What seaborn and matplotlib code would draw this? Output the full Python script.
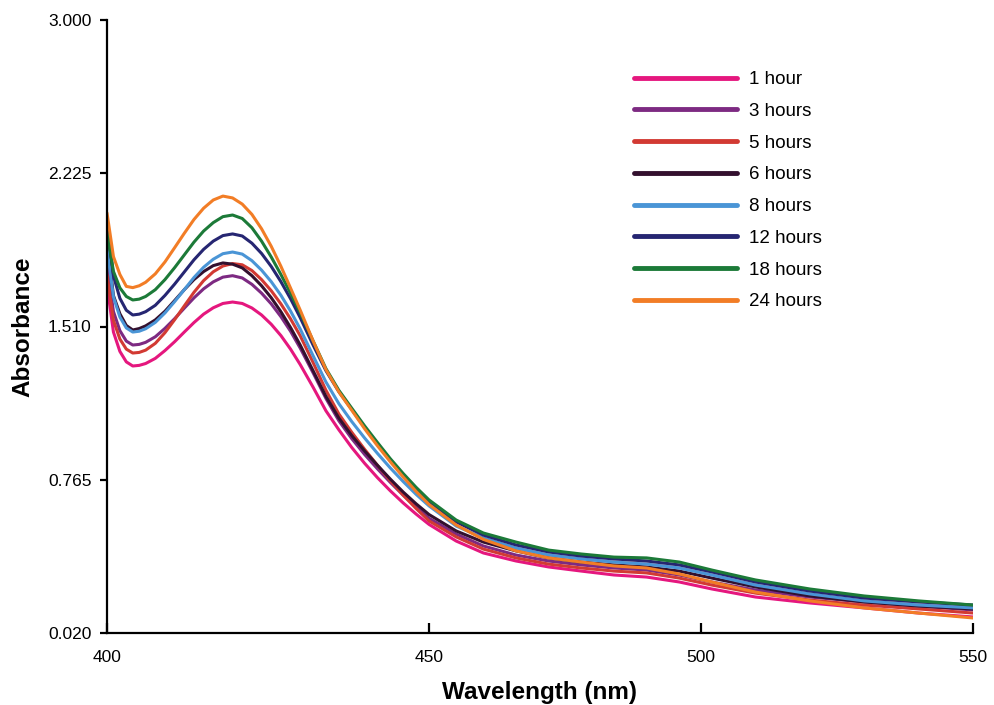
import numpy as np
import pandas as pd
import matplotlib
matplotlib.use("Agg")
import matplotlib.pyplot as plt
import seaborn as sns

# UV-vis absorbance spectra
wavelength = [400, 401, 402, 403, 404, 405, 406, 407.5, 409, 410.5, 412, 413.5, 415, 416.5,
              418, 419.5, 421, 422.5, 424, 425.5, 427, 428.5, 430, 432, 434, 436, 438, 440,
              442, 444, 446, 448, 450, 455, 460, 466, 472, 478, 484, 490, 496, 502, 510,
              520, 530, 540, 550]

hour_1 = [1.712, 1.483, 1.389, 1.338, 1.318, 1.321, 1.330, 1.355, 1.393, 1.436, 1.483, 1.529,
          1.570, 1.601, 1.622, 1.629, 1.622, 1.600, 1.566, 1.521, 1.466, 1.400, 1.325, 1.215,
          1.100, 1.008, 0.922, 0.845, 0.775, 0.711, 0.652, 0.598, 0.548, 0.467, 0.409, 0.370,
          0.341, 0.321, 0.302, 0.292, 0.268, 0.234, 0.195, 0.166, 0.142, 0.117, 0.098]
hours_3 = [1.809, 1.583, 1.490, 1.439, 1.420, 1.423, 1.433, 1.460, 1.501, 1.548, 1.599, 1.649,
           1.693, 1.727, 1.750, 1.757, 1.746, 1.715, 1.672, 1.620, 1.558, 1.487, 1.405, 1.285,
           1.160, 1.052, 0.965, 0.888, 0.818, 0.752, 0.690, 0.632, 0.578, 0.501, 0.443, 0.399,
           0.370, 0.351, 0.336, 0.326, 0.302, 0.268, 0.229, 0.195, 0.171, 0.151, 0.132]
hours_5 = [1.760, 1.540, 1.449, 1.400, 1.381, 1.384, 1.395, 1.428, 1.480, 1.543, 1.610, 1.676,
           1.733, 1.776, 1.804, 1.816, 1.810, 1.782, 1.738, 1.684, 1.620, 1.547, 1.465, 1.335,
           1.200, 1.085, 0.996, 0.913, 0.835, 0.760, 0.690, 0.625, 0.565, 0.487, 0.428, 0.385,
           0.355, 0.336, 0.321, 0.312, 0.287, 0.253, 0.214, 0.180, 0.156, 0.137, 0.117]
hours_6 = [1.930, 1.660, 1.572, 1.515, 1.493, 1.500, 1.513, 1.542, 1.584, 1.636, 1.689, 1.738,
           1.777, 1.806, 1.819, 1.813, 1.795, 1.757, 1.708, 1.650, 1.582, 1.505, 1.420, 1.295,
           1.170, 1.065, 0.980, 0.905, 0.835, 0.768, 0.705, 0.648, 0.596, 0.516, 0.462, 0.419,
           0.385, 0.365, 0.351, 0.341, 0.321, 0.287, 0.244, 0.200, 0.171, 0.151, 0.137]
hours_8 = [1.891, 1.654, 1.556, 1.503, 1.483, 1.487, 1.499, 1.530, 1.576, 1.631, 1.689, 1.748,
           1.798, 1.837, 1.864, 1.872, 1.862, 1.830, 1.784, 1.728, 1.662, 1.585, 1.498, 1.368,
           1.240, 1.135, 1.048, 0.968, 0.893, 0.822, 0.756, 0.694, 0.638, 0.540, 0.482, 0.433,
           0.399, 0.380, 0.365, 0.355, 0.336, 0.302, 0.253, 0.210, 0.176, 0.156, 0.142]
hours_12 = [2.018, 1.756, 1.647, 1.589, 1.566, 1.570, 1.582, 1.613, 1.661, 1.716, 1.775, 1.834,
            1.885, 1.925, 1.952, 1.960, 1.950, 1.915, 1.865, 1.802, 1.728, 1.645, 1.553, 1.420,
            1.295, 1.193, 1.107, 1.020, 0.940, 0.862, 0.790, 0.722, 0.660, 0.560, 0.496, 0.448,
            0.414, 0.394, 0.380, 0.370, 0.351, 0.317, 0.268, 0.224, 0.190, 0.171, 0.156]
hours_18 = [1.969, 1.778, 1.698, 1.656, 1.639, 1.643, 1.656, 1.689, 1.738, 1.796, 1.858, 1.920,
            1.974, 2.015, 2.044, 2.052, 2.035, 1.990, 1.925, 1.848, 1.763, 1.672, 1.577, 1.440,
            1.305, 1.200, 1.113, 1.027, 0.946, 0.867, 0.795, 0.728, 0.667, 0.569, 0.506, 0.462,
            0.423, 0.404, 0.389, 0.385, 0.365, 0.326, 0.278, 0.234, 0.200, 0.176, 0.156]
hours_24 = [2.062, 1.850, 1.763, 1.705, 1.699, 1.708, 1.725, 1.766, 1.824, 1.893, 1.963, 2.030,
            2.085, 2.125, 2.144, 2.135, 2.105, 2.055, 1.985, 1.900, 1.803, 1.697, 1.590, 1.440,
            1.300, 1.192, 1.103, 1.013, 0.930, 0.852, 0.778, 0.708, 0.645, 0.545, 0.475, 0.419,
            0.385, 0.365, 0.346, 0.336, 0.307, 0.268, 0.219, 0.176, 0.142, 0.117, 0.093]

series_labels = ["1 hour", "3 hours", "5 hours", "6 hours", "8 hours", "12 hours", "18 hours", "24 hours"]
series_values = [hour_1, hours_3, hours_5, hours_6, hours_8, hours_12, hours_18, hours_24]
series_colors = ["#E5177E", "#7D2A82", "#D23A33", "#33102E", "#4A95D6", "#262672", "#1C7A38", "#F27D26"]

xtick_values = [400, 450, 500, 550]
ytick_labels = ["0.020", "0.765", "1.510", "2.225", "3.000"]

spectra = pd.concat(
    [pd.DataFrame({"wavelength": wavelength, "absorbance": values, "time": label})
     for label, values in zip(series_labels, series_values)],
    ignore_index=True)

sns.set_style("ticks")
plt.rcParams["font.family"] = ["Liberation Sans", "DejaVu Sans"]
plt.rcParams["text.color"] = "black"
plt.rcParams["axes.labelcolor"] = "black"

fig = plt.figure(figsize=(9.94, 7.05), dpi=100)
ax = fig.add_axes([107 / 994, 72 / 705, 866 / 994, 613 / 705])

sns.lineplot(data=spectra, x="wavelength", y="absorbance", hue="time",
             hue_order=series_labels, palette=series_colors, linewidth=2.2,
             estimator=None, errorbar=None, legend=True, ax=ax)


# the original x axis is stretched between 400 and 450 nm
def forward(x):
    return np.interp(x, [400, 450, 550], [0.0, 322.0, 866.0])


def inverse(x):
    return np.interp(x, [0.0, 322.0, 866.0], [400, 450, 550])


ax.set_xscale("function", functions=(forward, inverse))
ax.set_xlim(400, 550)
ax.set_ylim(0.02, 3.0)
ax.set_xticks(xtick_values)
ax.set_xticklabels([str(v) for v in xtick_values])
ax.set_yticks(np.linspace(0.02, 3.0, len(ytick_labels)))
ax.set_yticklabels(ytick_labels)
ax.minorticks_off()

sns.despine(ax=ax)
for side in ["left", "bottom"]:
    ax.spines[side].set_linewidth(1.6)
    ax.spines[side].set_color("black")

ax.tick_params(axis="y", direction="out", length=5, width=1.6, pad=6, labelsize=12.5,
               colors="black", labelcolor="black")
ax.tick_params(axis="x", direction="in", length=7, width=1.6, pad=12, labelsize=12.5,
               colors="black", labelcolor="black")

ax.set_xlabel("Wavelength (nm)", fontsize=17.5, fontweight="bold", labelpad=12, color="black")
ax.set_ylabel("Absorbance", fontsize=17.5, fontweight="bold", labelpad=10, color="black")

leg = ax.legend(loc="upper left", bbox_to_anchor=(634 / 994, 1 - 71 / 705),
                bbox_transform=fig.transFigure, frameon=False, fontsize=13.5,
                handlelength=5.5, handletextpad=0.65, labelspacing=0.78,
                borderpad=0, borderaxespad=0)
for text in leg.get_texts():
    text.set_color("black")
for line in leg.get_lines():
    line.set_linewidth(3.5)

fig.savefig("out.png", dpi=100)
